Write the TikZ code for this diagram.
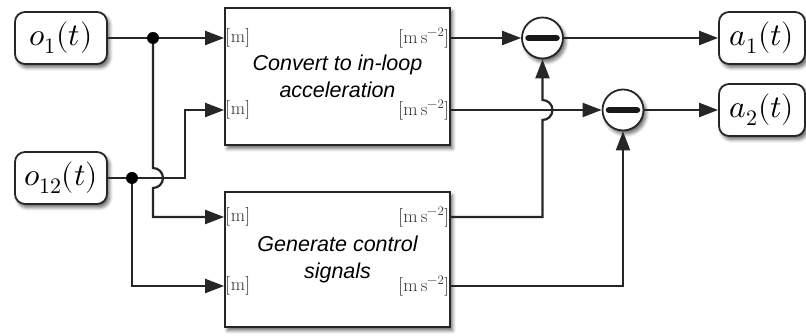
\documentclass[tikz,border=0pt]{standalone}
\usepackage{fontspec}
\usepackage{unicode-math}
\setmathfont{Latin Modern Math}
\newfontfamily\lsans{Liberation Sans}
\usetikzlibrary{arrows.meta,shadows,shadows.blur,calc}
\tikzset{
  wire/.style={line width=2.2pt, draw=black!85},
  arr/.style={wire, -{Triangle[length=19pt,width=14pt]}},
  shad/.style={blur shadow={shadow xshift=2.5pt, shadow yshift=-3.5pt, shadow blur radius=3.5pt, shadow blur steps=6, shadow opacity=60}},
  term/.style={draw=black!85, line width=1.8pt, rounded corners=10pt, fill=white,
    minimum width=92pt, minimum height=52pt, inner sep=0pt,
    font=\fontsize{31.5}{38}\selectfont, shad},
  block/.style={draw=black!85, line width=1.8pt, fill=white, minimum width=225pt,
    inner sep=0pt, align=center, font=\lsans\itshape\fontsize{21.5}{27}\selectfont, shad},
  sum/.style={circle, draw=black!85, line width=1.8pt, fill=white, minimum size=41pt,
    inner sep=0pt, shad},
  port/.style={font=\fontsize{18.5}{22}\selectfont, inner sep=1.2pt, text=black!80},
  dot/.style={circle, fill=black, minimum size=12pt, inner sep=0pt},
  bar/.style={line width=6.5pt, line cap=round, draw=black!90},
}
\begin{document}
\begin{tikzpicture}[x=1pt,y=1pt]
\useasboundingbox (0,0) rectangle (806,336);
% nodes
\node[term] (o1) at (61,298) {$o_1(t)$};
\node[term] (o12) at (61,158) {$o_{12}(t)$};
\node[block, minimum height=137pt] (box1) at (337.5,259.5) {Convert to in-loop\\acceleration};
\node[block, minimum height=135pt] (box2) at (337.5,76.5) {Generate control\\signals};
\node[sum] (c1) at (542.5,298) {};
\node[sum] (c2) at (623,226) {};
\node[term, minimum width=86pt] (a1) at (762,298) {$a_1(t)$};
\node[term, minimum width=86pt] (a2) at (762,226) {$a_2(t)$};
\draw[bar] ($(c1)+(-14,0)$) -- ($(c1)+(14,0)$);
\draw[bar] ($(c2)+(-14,0)$) -- ($(c2)+(14,0)$);
% port labels
\node[port, anchor=west] at (box1.west |- 0,298) {$[\mathrm{m}]$};
\node[port, anchor=west] at (box1.west |- 0,226) {$[\mathrm{m}]$};
\node[port, anchor=east] at (box1.east |- 0,298) {$[\mathrm{m\,s^{-2}}]$};
\node[port, anchor=east] at (box1.east |- 0,226) {$[\mathrm{m\,s^{-2}}]$};
\node[port, anchor=west] at (box2.west |- 0,119) {$[\mathrm{m}]$};
\node[port, anchor=west] at (box2.west |- 0,50) {$[\mathrm{m}]$};
\node[port, anchor=east] at (box2.east |- 0,119) {$[\mathrm{m\,s^{-2}}]$};
\node[port, anchor=east] at (box2.east |- 0,50) {$[\mathrm{m\,s^{-2}}]$};
% junctions
\coordinate (d1) at (153,298);
\coordinate (d2) at (132,158);
% wires
\draw[arr] (o1.east) -- (box1.west |- o1.east);
\draw[arr] (d1) -- (d1 |- 0,168) arc[start angle=90, end angle=-90, radius=10] -- (d1 |- 0,119) -- (box2.west |- 0,119);
\draw[arr] (o12.east) -- (185,158) -- (185,226) -- (box1.west |- 0,226);
\draw[arr] (d2) -- (d2 |- 0,50) -- (box2.west |- 0,50);
\draw[arr] (box1.east |- c1) -- (c1.west);
\draw[arr] (c1.east) -- (a1.west);
\draw[arr] (box1.east |- c2) -- (c2.west);
\draw[arr] (box2.east |- 0,119) -- (c1 |- 0,119) -- (c1 |- 0,216) arc[start angle=-90, end angle=90, radius=10] -- (c1.south);
\draw[arr] (box2.east |- 0,50) -- (c2 |- 0,50) -- (c2.south);
\draw[arr] (c2.east) -- (a2.west);
\node[dot] at (d1) {};
\node[dot] at (d2) {};
\end{tikzpicture}
\end{document}
